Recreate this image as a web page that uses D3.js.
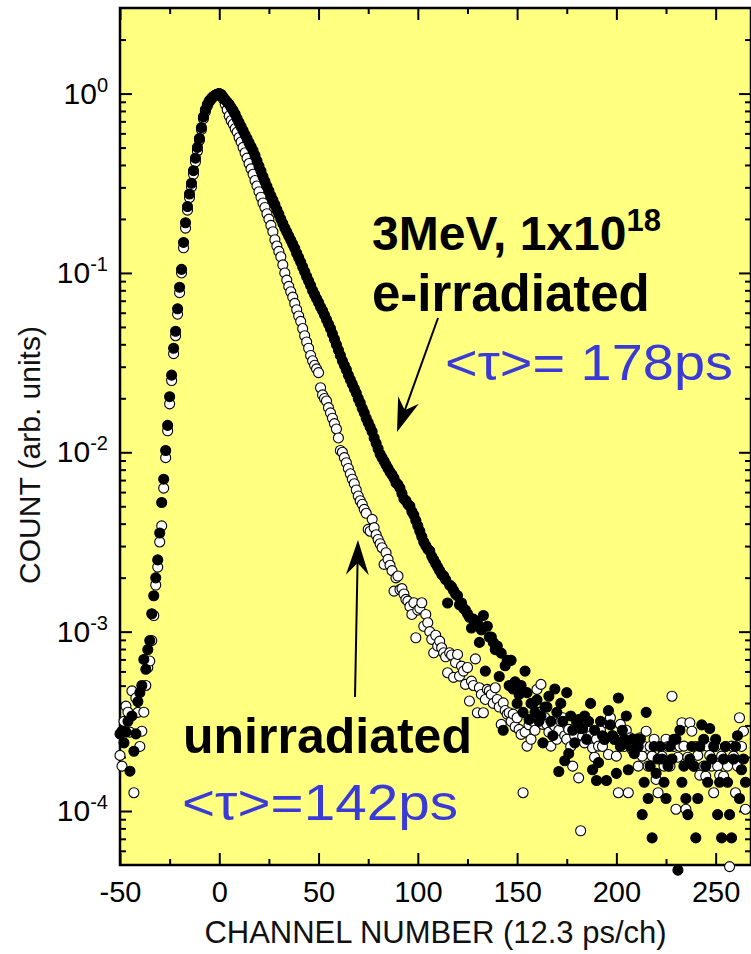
<!DOCTYPE html>
<html><head><meta charset="utf-8">
<script src="https://cdn.jsdelivr.net/npm/d3@7"></script>
<style>
body{margin:0;background:#fff}
svg{display:block}
text{font-family:"Liberation Sans",Arial,Helvetica,sans-serif}
</style>
</head><body>
<svg id="chart" width="751" height="954"></svg>
<script>
// ---------------- data ----------------
// one point per channel, starting at channel -50; values are log10(count, arb. units)
const channelStart = -50;
const irradiatedLog10 = [
-3.57,-3.555,-3.62,-3.56,-3.50,-3.778,-3.47,-3.667,-3.57,-3.39,
-3.34,-3.30,-3.155,-3.21,-3.10,-3.05,-2.90,-2.80,-2.70,-2.60,
-2.45,-2.28,-2.15,-1.99,-1.85,-1.69,-1.57,-1.42,-1.325,-1.20,
-1.08,-0.98,-0.83,-0.72,-0.63,-0.56,-0.50,-0.43,-0.36,-0.30,
-0.25,-0.19,-0.13,-0.09,-0.06,-0.04,-0.027,-0.016,-0.008,-0.003,
0,-0.005,-0.02,-0.035,-0.048,-0.06,-0.078,-0.095,-0.115,-0.14,
-0.162,-0.185,-0.207,-0.23,-0.252,-0.274,-0.296,-0.318,-0.345,-0.375,
-0.405,-0.433,-0.463,-0.49,-0.517,-0.543,-0.57,-0.595,-0.62,-0.647,
-0.673,-0.70,-0.725,-0.75,-0.772,-0.795,-0.817,-0.84,-0.863,-0.89,
-0.915,-0.94,-0.967,-0.993,-1.02,-1.045,-1.07,-1.098,-1.12,-1.143,
-1.165,-1.19,-1.21,-1.235,-1.26,-1.285,-1.31,-1.34,-1.37,-1.40,
-1.43,-1.46,-1.49,-1.515,-1.54,-1.57,-1.595,-1.62,-1.645,-1.67,
-1.70,-1.725,-1.755,-1.78,-1.81,-1.835,-1.86,-1.885,-1.92,-1.95,
-1.98,-2.01,-2.03,-2.05,-2.07,-2.09,-2.11,-2.125,-2.145,-2.17,
-2.18,-2.2,-2.23,-2.26,-2.27,-2.29,-2.30,-2.33,-2.35,-2.38,
-2.41,-2.44,-2.47,-2.50,-2.52,-2.54,-2.55,-2.58,-2.60,-2.62,
-2.64,-2.66,-2.68,-2.69,-2.71,-2.84,-2.74,-2.75,-2.77,-2.79,
-2.80,-2.85,-2.84,-2.87,-2.88,-2.90,-2.92,-2.98,-2.93,-2.96,
-2.95,-3.06,-2.99,-2.91,-3.22,-2.97,-3.03,-3.03,-3.06,-3.10,
-3.08,-3.25,-3.12,-3.55,-3.19,-3.16,-3.30,-3.16,-3.32,-3.28,
-3.40,-3.35,-3.30,-3.45,-3.22,-3.34,-3.49,-3.40,-3.40,-3.45,
-3.38,-3.50,-3.47,-3.62,-3.42,-3.42,-3.36,-3.50,-3.58,-3.32,
-3.45,-3.78,-3.40,-3.50,-3.72,-3.34,-3.68,-3.47,-3.55,-3.62,
-3.50,-3.49,-3.54,-3.54,-3.47,-3.60,-3.50,-3.40,-3.77,-3.55,
-3.83,-3.73,-3.50,-3.58,-3.60,-3.83,-3.44,-3.52,-3.58,-3.60,
-3.79,-3.37,-3.64,-3.55,-3.60,-3.47,-3.77,-3.64,-3.60,-3.68,
-3.60,-3.64,-3.60,-4.02,-3.84,-3.45,-3.93,-3.75,-4.15,-3.64,
-3.79,-3.71,-3.64,-3.71,-3.84,-3.93,-3.75,-3.64,-3.71,-3.60,
-3.60,-4.33,-3.55,-3.84,-3.75,-3.93,-4.02,-3.71,-3.64,-3.75,
-4.15,-3.93,-3.64,-3.52,-3.60,-3.75,-3.84,-3.54,-3.71,-3.64,
-3.60,-4.02,-3.84,-4.15,-3.71,-3.64,-3.84,-4.02,-4.15,-3.71,
-3.64,-3.58,-3.93,-3.77,-3.71,-3.84
];
const unirradiatedLog10 = [
-3.69,-3.75,-3.50,-3.415,-3.449,-3.56,-3.33,-3.898,-3.37,-3.45,
-3.64,-3.555,-3.449,-3.30,-3.20,-3.164,-3.05,-2.91,-2.74,-2.64,
-2.50,-2.41,-2.20,-2.03,-1.88,-1.73,-1.60,-1.45,-1.35,-1.23,
-1.11,-1.00,-0.86,-0.75,-0.65,-0.58,-0.52,-0.45,-0.38,-0.32,
-0.26,-0.20,-0.14,-0.10,-0.07,-0.045,-0.03,-0.018,-0.01,-0.004,
-0.001,-0.01,-0.03,-0.06,-0.09,-0.125,-0.15,-0.17,-0.195,-0.215,
-0.245,-0.27,-0.30,-0.33,-0.36,-0.39,-0.42,-0.45,-0.485,-0.515,
-0.547,-0.578,-0.61,-0.635,-0.67,-0.70,-0.735,-0.77,-0.815,-0.85,
-0.88,-0.91,-0.955,-1.0,-1.04,-1.075,-1.105,-1.135,-1.17,-1.205,
-1.24,-1.27,-1.31,-1.35,-1.385,-1.42,-1.46,-1.49,-1.515,-1.535,
-1.556,-1.64,-1.68,-1.70,-1.714,-1.751,-1.78,-1.81,-1.84,-1.87,
-1.92,-1.99,-2.00,-2.03,-2.058,-2.09,-2.12,-2.15,-2.175,-2.21,
-2.244,-2.27,-2.29,-2.318,-2.34,-2.43,-2.44,-2.374,-2.42,-2.46,
-2.486,-2.51,-2.532,-2.625,-2.56,-2.597,-2.63,-2.66,-2.774,-2.70,
-2.69,-2.765,-2.76,-2.79,-2.82,-2.83,-2.86,-2.904,-2.839,-3.034,
-2.88,-2.87,-2.839,-2.97,-2.904,-2.95,-3.00,-3.043,-3.118,-3.02,
-3.08,-3.053,-3.09,-3.118,-3.14,-3.229,-3.118,-3.13,-3.255,-3.173,
-3.127,-3.248,-3.192,-3.22,-3.294,-3.20,-3.387,-3.276,-3.30,-3.152,
-3.452,-3.313,-3.35,-3.452,-3.378,-3.322,-3.33,-3.35,-3.40,-3.313,
-3.378,-3.42,-3.517,-3.397,-3.44,-3.46,-3.452,-3.50,-3.46,-3.53,
-3.48,-3.545,-3.573,-3.898,-3.56,-3.638,-3.52,-3.60,-3.50,-3.55,
-3.322,-3.45,-3.294,-3.517,-3.48,-3.517,-3.56,-3.638,-3.517,-3.527,
-3.60,-3.55,-3.50,-3.48,-3.58,-3.60,-3.545,-3.64,-3.75,-3.58,
-3.52,-3.815,-4.11,-3.583,-3.62,-3.55,-3.60,-3.58,-3.648,-3.70,
-3.60,-3.638,-3.55,-3.64,-3.60,-3.508,-3.685,-3.48,-3.58,-3.60,
-3.694,-3.898,-3.517,-3.60,-3.64,-3.55,-3.898,-3.592,-3.657,-3.64,
-3.60,-3.75,-3.592,-3.694,-3.64,-3.555,-3.75,-3.64,-3.694,-3.60,
-3.824,-3.898,-3.64,-3.694,-3.75,-3.60,-3.64,-3.75,-3.36,-3.64,
-3.99,-3.70,-3.64,-3.508,-3.638,-3.99,-3.70,-3.508,-3.555,-3.75,
-3.64,-3.69,-3.80,-3.638,-3.75,-3.806,-3.64,-3.69,-3.75,-3.898,
-3.64,-3.75,-3.80,-3.694,-3.806,-3.64,-3.75,-4.31,-3.638,-3.694,
-3.898,-3.75,-3.48,-3.64,-3.555,-3.99
];
const xTickValues = [-50, 0, 50, 100, 150, 200, 250];
const xMinorTickValues = [-25, 25, 75, 125, 175, 225];
const yDecadeExponents = [-4, -3, -2, -1, 0];
const xTitle = "CHANNEL NUMBER (12.3 ps/ch)";
const yTitle = "COUNT (arb. units)";

// ---------------- layout ----------------
const L = 120, R = 751, T = 8, B = 865;
const yellow = "#ffff80", blue = "#3a3ad6";
const svg = d3.select("#chart");

const x = d3.scaleLinear().domain([-50, 267.8]).range([L, R]);
const y = d3.scaleLog().domain([5e-5, 3]).range([B, T]);

const yMajor = yDecadeExponents.map(e => Math.pow(10, e));
const yMinor = [];
for (let e = -5; e <= 0; e++) for (let k = 2; k <= 9; k++) {
  const v = k * Math.pow(10, e);
  if (v > 5.01e-5 && v < 2.5) yMinor.push(v);
}

svg.append("rect").attr("x", L).attr("y", T).attr("width", R - L).attr("height", B - T).attr("fill", yellow);

function styleAxis(g) {
  g.select(".domain").remove();
  g.selectAll(".tick line").attr("stroke", "#000").attr("stroke-width", 2);
}
// bottom
svg.append("g").attr("transform", `translate(0,${B})`)
  .call(d3.axisBottom(x).tickValues(xTickValues).tickSize(-12).tickPadding(16).tickFormat(d => String(d)))
  .call(styleAxis)
  .call(g => g.selectAll("text").attr("font-size", 29).attr("fill", "#000").attr("font-family", "Liberation Sans, Arial, sans-serif"));
svg.append("g").attr("transform", `translate(0,${B})`)
  .call(d3.axisBottom(x).tickValues(xMinorTickValues).tickSize(-6).tickFormat(""))
  .call(styleAxis);
// top
svg.append("g").attr("transform", `translate(0,${T})`)
  .call(d3.axisTop(x).tickValues(xTickValues).tickSize(-12).tickFormat(""))
  .call(styleAxis);
svg.append("g").attr("transform", `translate(0,${T})`)
  .call(d3.axisTop(x).tickValues(xMinorTickValues).tickSize(-6).tickFormat(""))
  .call(styleAxis);
// left
svg.append("g").attr("transform", `translate(${L},0)`)
  .call(d3.axisLeft(y).tickValues(yMajor).tickSize(-12).tickFormat(""))
  .call(styleAxis);
svg.append("g").attr("transform", `translate(${L},0)`)
  .call(d3.axisLeft(y).tickValues(yMinor).tickSize(-6).tickFormat(""))
  .call(styleAxis);
// right
svg.append("g").attr("transform", `translate(${R},0)`)
  .call(d3.axisRight(y).tickValues(yMajor).tickSize(-12).tickFormat(""))
  .call(styleAxis);
svg.append("g").attr("transform", `translate(${R},0)`)
  .call(d3.axisRight(y).tickValues(yMinor).tickSize(-6).tickFormat(""))
  .call(styleAxis);

// frame
svg.append("rect").attr("x", L).attr("y", T).attr("width", R - L).attr("height", B - T)
  .attr("fill", "none").attr("stroke", "#000").attr("stroke-width", 2.5);

// y tick labels 10^n
const yLab = svg.append("g").selectAll("text").data(yDecadeExponents).join("text")
  .attr("x", 108).attr("y", d => y(Math.pow(10, d)) + 10)
  .attr("text-anchor", "end").attr("font-size", 30).attr("fill", "#000");
yLab.append("tspan").text("10");
yLab.append("tspan").attr("dy", -12).attr("font-size", 20).text(d => String(d));

// axis titles
svg.append("text").attr("x", (L + R) / 2).attr("y", 943).attr("text-anchor", "middle")
  .attr("font-size", 31).attr("fill", "#111").text(xTitle);
svg.append("text").attr("transform", "translate(40,455) rotate(-90)").attr("text-anchor", "middle")
  .attr("font-size", 30).attr("fill", "#111").text(yTitle);

// ---------------- points ----------------
const unirr = unirradiatedLog10.map((v, i) => ({ ch: channelStart + i, v: Math.pow(10, v) }));
const irr = irradiatedLog10.map((v, i) => ({ ch: channelStart + i, v: Math.pow(10, v) }));

svg.append("g").selectAll("circle").data(unirr).join("circle")
  .attr("cx", d => x(d.ch)).attr("cy", d => y(d.v)).attr("r", 5)
  .attr("fill", "#fff").attr("stroke", "#000").attr("stroke-width", 1.1);
svg.append("g").selectAll("circle").data(irr).join("circle")
  .attr("cx", d => x(d.ch)).attr("cy", d => y(d.v)).attr("r", 5)
  .attr("fill", "#000").attr("stroke", "#000").attr("stroke-width", 1.1);

// ---------------- annotations ----------------
const t1 = svg.append("text").attr("x", 372).attr("y", 250).attr("font-size", 48).attr("font-weight", "bold").attr("fill", "#000");
t1.append("tspan").text("3MeV, 1x10");
t1.append("tspan").attr("dy", -19).attr("font-size", 31).text("18");
svg.append("text").attr("x", 372).attr("y", 311).attr("font-size", 51).attr("font-weight", "bold").attr("fill", "#000").text("e-irradiated");
svg.append("text").attr("x", 445).attr("y", 380).attr("font-size", 50).attr("fill", blue)
  .attr("textLength", 288).attr("lengthAdjust", "spacingAndGlyphs").text("<τ>= 178ps");
svg.append("text").attr("x", 183).attr("y", 753).attr("font-size", 50).attr("font-weight", "bold").attr("fill", "#000").text("unirradiated");
svg.append("text").attr("x", 182).attr("y", 820).attr("font-size", 50).attr("fill", blue)
  .attr("textLength", 276).attr("lengthAdjust", "spacingAndGlyphs").text("<τ>=142ps");

function arrow(x1, y1, x2, y2, len, half, notch) {
  const dx = x2 - x1, dy = y2 - y1, d = Math.hypot(dx, dy);
  const ux = dx / d, uy = dy / d, px = -uy, py = ux;
  const bx = x2 - ux * len, by = y2 - uy * len;
  const nx = x2 - ux * (len - notch), ny = y2 - uy * (len - notch);
  svg.append("line").attr("x1", x1).attr("y1", y1).attr("x2", nx).attr("y2", ny)
    .attr("stroke", "#000").attr("stroke-width", 2);
  svg.append("path").attr("d",
    `M${x2},${y2}L${bx + px * half},${by + py * half}L${nx},${ny}L${bx - px * half},${by - py * half}Z`)
    .attr("fill", "#000");
}
arrow(438, 318, 397, 432, 34, 11, 11);
arrow(355, 697, 358, 540, 35, 11.5, 12);
</script>
</body></html>
